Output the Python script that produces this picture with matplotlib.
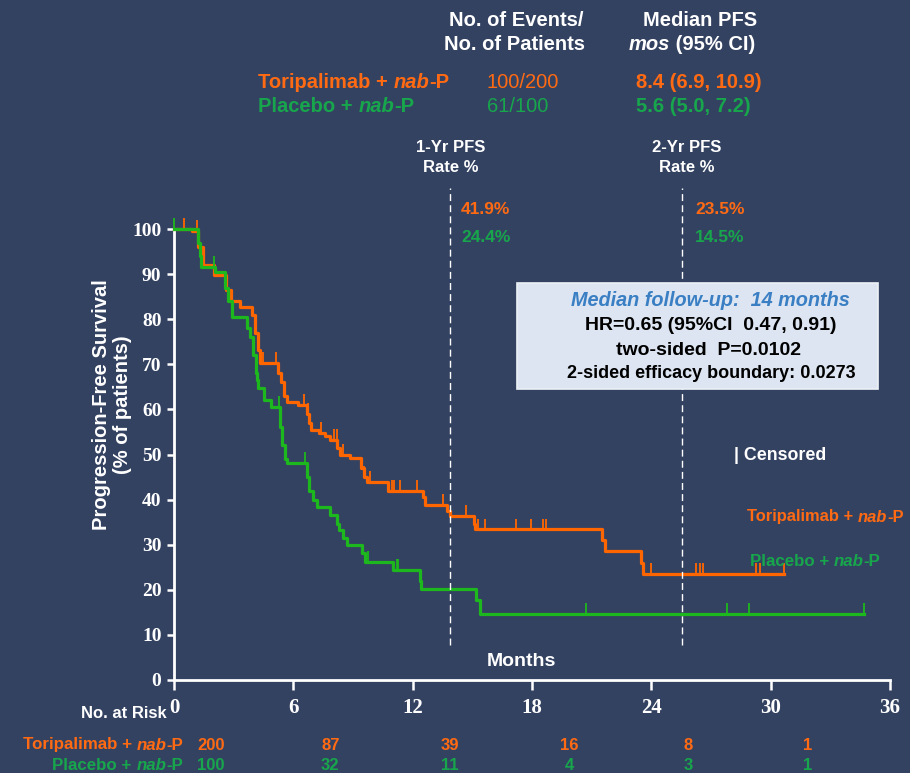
import numpy as np
import matplotlib
matplotlib.use('Agg')
import matplotlib.pyplot as plt
from matplotlib.patches import Rectangle
from matplotlib.offsetbox import TextArea, HPacker, AnnotationBbox
import matplotlib.transforms as mtransforms

W, H = 910, 773
BG = '#344261'
ORANGE = '#ff6a13'
ORANGE_LINE = '#ff6600'
GREEN = '#17a64c'
GREEN_LINE = '#1db81d'
BLUE = '#3a7fc4'
SANS = 'Liberation Sans'
SERIF = 'Liberation Serif'

# ── data ──
tori_t = [0, 0.9, 1.2, 1.45, 2.0, 2.6, 2.85, 3.3, 3.9, 4.05, 4.2, 4.3, 5.25, 5.4, 5.55,
          5.66, 6.25, 6.7, 6.8, 6.9, 7.3, 7.59, 7.84, 8.2, 8.34, 8.84, 9.42, 9.55, 9.68,
          10.77, 12.5, 12.6, 13.75, 13.87, 15.1, 15.15, 21.5, 21.66, 23.5, 23.6]
tori_s = [100, 99.5, 96, 92, 89.8, 86.5, 84, 82.8, 81, 77, 73.2, 70.3, 68, 66, 63,
          61.7, 61, 59, 57, 55.4, 54.8, 54.1, 53.2, 51.5, 49.9, 49.2, 47, 45, 44,
          42, 40.5, 38.8, 37.5, 36.4, 34.5, 33.4, 31, 28.7, 26, 23.6]
tori_cens = [0.5, 1.14, 4.46, 5.13, 6.55, 6.75, 7.39, 8.04, 8.18, 8.5, 9.56, 9.85, 10.94,
             11.06, 11.36, 12.24, 13.5, 14.66, 15.29, 15.63, 17.19, 17.94, 18.56, 18.69,
             23.97, 26.26, 26.43, 26.6, 29.28, 29.45, 30.67]

plac_t = [0, 1.2, 1.3, 1.36, 2.06, 2.56, 2.7, 2.9, 3.65, 3.8, 3.95, 4.1, 4.15, 4.2, 4.5,
          4.9, 5.35, 5.45, 5.6, 5.66, 6.67, 6.8, 7.0, 7.17, 7.84, 8.18, 8.3, 8.5, 8.68,
          9.43, 9.6, 11.02, 12.36, 12.4, 15.2, 15.4]
plac_s = [100, 97, 94, 91.6, 90.4, 87, 84, 80.5, 78, 76, 72, 68, 66.5, 64.7, 62,
          60.6, 56, 52, 49, 48.1, 45, 42, 40, 38.4, 36.6, 34.5, 33.3, 31.5, 29.9,
          28.1, 26.2, 24.4, 22, 20.1, 17.7, 14.6]
plac_cens = [0.0, 2.03, 2.56, 4.6, 5.28, 6.58, 9.76, 11.19, 11.27, 20.7, 27.8, 28.9, 34.7]

risk_times = [0, 6, 12, 18, 24, 30]
tori_risk = [200, 87, 39, 16, 8, 1]
plac_risk = [100, 32, 11, 4, 3, 1]

landmarks = [13.88, 25.54]
landmark_titles = ['1-Yr PFS', '2-Yr PFS']
tori_rates = ['41.9%', '23.5%']
plac_rates = ['24.4%', '14.5%']


def fxy(px, py):
    return px / W, 1 - py / H


fig = plt.figure(figsize=(W / 100, H / 100), dpi=100, facecolor=BG)
ax = fig.add_axes([174 / W, (H - 680) / H, 716 / W, 451 / H])
ax.set_facecolor('none')
ax.set_xlim(0, 36)
ax.set_ylim(0, 100)


def km(t, s, cens, color):
    t = np.array(t + [max(cens)])
    s = np.array(s + [s[-1]])
    ax.step(t, s, where='post', color=color, lw=2.3, clip_on=False, zorder=3)
    idx = np.searchsorted(t, cens, side='right') - 1
    ax.vlines(cens, s[idx], s[idx] + 2.4, color=color, lw=1.3, clip_on=False, zorder=3)


km(tori_t, tori_s, tori_cens, ORANGE_LINE)
km(plac_t, plac_s, plac_cens, GREEN_LINE)

# axes styling
for side in ['top', 'right']:
    ax.spines[side].set_visible(False)
for side in ['left', 'bottom']:
    ax.spines[side].set_color('white')
    ax.spines[side].set_linewidth(2.0)
ax.spines['left'].set_bounds(0, 100)
ax.spines['bottom'].set_bounds(0, 36)
ax.set_xticks(range(0, 37, 6))
ax.set_yticks(range(0, 101, 10))
ax.tick_params(axis='x', colors='white', length=7, width=1.8, pad=6)
ax.tick_params(axis='y', colors='white', length=5, width=1.8, pad=4)
for lab in ax.get_xticklabels():
    lab.set_fontfamily(SERIF); lab.set_fontweight('bold'); lab.set_fontsize(15)
for lab in ax.get_yticklabels():
    lab.set_fontfamily(SERIF); lab.set_fontweight('bold'); lab.set_fontsize(14)

# landmark dashed lines
for x in landmarks:
    ax.vlines(x, 7.8, 109, color='white', lw=1.0, linestyles=(0, (5, 3)), clip_on=False, zorder=6)


def rich(parts, px, py, ha='left', size=14.5, family=SANS):
    areas = []
    for s, c, st, wt in parts:
        areas.append(TextArea(s, textprops=dict(color=c, fontsize=size, fontweight=wt,
                                                fontstyle=st, family=family)))
    box = HPacker(children=areas, align='baseline', pad=0, sep=0)
    a = {'left': 0, 'center': 0.5, 'right': 1}[ha]
    ab = AnnotationBbox(box, fxy(px, py), xycoords='figure fraction', box_alignment=(a, 0.5),
                        frameon=False, pad=0, annotation_clip=False, zorder=8)
    ax.add_artist(ab)


def arm(name, color):
    return [(name + ' + ', color, 'normal', 'bold'), ('nab', color, 'italic', 'bold'),
            ('-P', color, 'normal', 'bold')]


def ftext(px, py, s, **kw):
    kw.setdefault('family', SANS)
    kw.setdefault('fontweight', 'bold')
    kw.setdefault('color', 'white')
    fig.text(*fxy(px, py), s, va='center', **kw)


# header table
ftext(516, 20, 'No. of Events/', ha='center', fontsize=14.5)
ftext(515, 45, 'No. of Patients', ha='center', fontsize=14.5)
ftext(700, 20, 'Median PFS', ha='center', fontsize=14.5)
rich([('mos', 'white', 'italic', 'bold'), (' (95% CI)', 'white', 'normal', 'bold')], 692, 45, ha='center')
rich(arm('Toripalimab', ORANGE), 258, 83)
rich(arm('Placebo', GREEN), 258, 107)
ftext(487, 83, '100/200', color=ORANGE, fontweight='normal', fontsize=14.5)
ftext(487, 107, '61/100', color=GREEN, fontweight='normal', fontsize=14.5)
ftext(636, 83, '8.4 (6.9, 10.9)', color=ORANGE, fontsize=14.5)
ftext(636, 107, '5.6 (5.0, 7.2)', color=GREEN, fontsize=14.5)

# landmark labels
lm_px = [451, 687]
rate_px = [461, 695]
for i in range(2):
    ftext(lm_px[i], 148, landmark_titles[i], ha='center', fontsize=12)
    ftext(lm_px[i], 168, 'Rate %', ha='center', fontsize=12)
    ftext(rate_px[i], 209, tori_rates[i], color=ORANGE, fontsize=12.5)
    ftext(rate_px[i], 238, plac_rates[i], color=GREEN, fontsize=12.5)

# stats box
x0, y0 = fxy(517, 389)
x1, y1 = fxy(878, 283)
fig.patches.append(Rectangle((x0, y0), x1 - x0, y1 - y0, transform=fig.transFigure,
                             facecolor='#dce5f1', edgecolor='#eef2f8', lw=1.2, zorder=1))
ftext(710, 300, 'Median follow-up:  14 months', ha='center', color=BLUE, style='italic', fontsize=14.3)
ftext(711, 325, 'HR=0.65 (95%CI  0.47, 0.91)', ha='center', color='black', fontsize=14)
ftext(709, 350, 'two-sided  P=0.0102', ha='center', color='black', fontsize=14)
ftext(711, 374, '2-sided efficacy boundary: 0.0273', ha='center', color='black', fontsize=13)

ftext(734, 456, '| Censored', fontsize=12.8)
rich(arm('Toripalimab', ORANGE), 747, 517, size=11.9)
rich(arm('Placebo', GREEN), 750, 562, size=12.2)

# axis labels
ftext(521, 661, 'Months', ha='center', fontsize=14)
fig.text(*fxy(112, 405), 'Progression-Free Survival\n(% of patients)', rotation=90,
         ha='center', va='center', multialignment='center', color='white',
         family=SANS, fontweight='bold', fontsize=14.5, linespacing=1.1)

# number at risk
narrow = ['Liberation Sans Narrow', SANS]
ftext(167, 713, 'No. at Risk', ha='right', fontsize=12, family=narrow)
rich(arm('Toripalimab', ORANGE), 183, 745, ha='right', size=12.2, family=narrow)
rich(arm('Placebo', GREEN), 183, 765, ha='right', size=12.2, family=narrow)
row_tr = mtransforms.blended_transform_factory(ax.transData, fig.transFigure)
for t, a, b in zip(risk_times, tori_risk, plac_risk):
    ax.text(t + 1.86, fxy(0, 745)[1], str(a), transform=row_tr, ha='center', va='center',
            color=ORANGE, family=narrow, fontweight='bold', fontsize=12, clip_on=False)
    ax.text(t + 1.86, fxy(0, 765)[1], str(b), transform=row_tr, ha='center', va='center',
            color=GREEN, family=narrow, fontweight='bold', fontsize=12, clip_on=False)

fig.savefig('out.png', dpi=100, facecolor=fig.get_facecolor())
